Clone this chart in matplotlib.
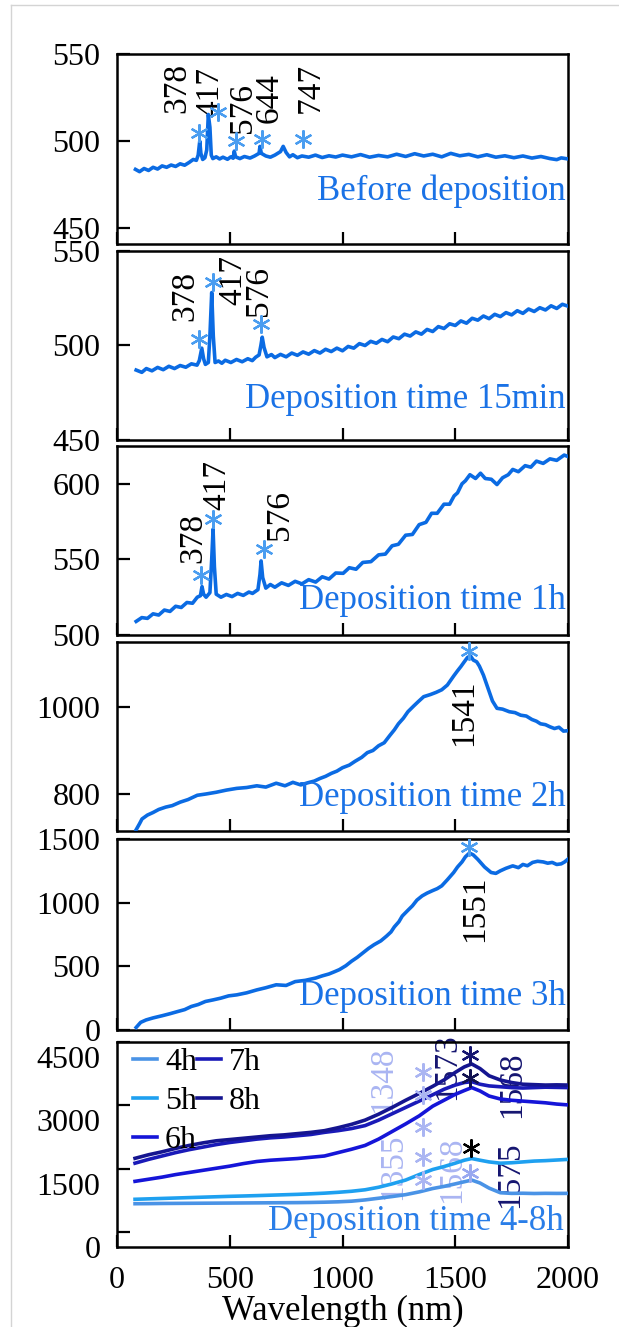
import numpy as np
import matplotlib
matplotlib.use("Agg")
import matplotlib.pyplot as plt
import matplotlib.transforms as mtransforms
from matplotlib.lines import Line2D

plt.rcParams['font.family'] = ['Liberation Serif', 'DejaVu Serif']

# ---- panel 1: before deposition
wl1 = [82, 100, 120, 140, 160, 180, 200, 220, 240, 260, 280, 300, 320, 338, 352, 360, 367, 372, 380, 390,
       398, 405, 412, 418, 425, 440, 455, 470, 490, 505, 515, 520, 526, 545, 565, 590, 610, 630, 634, 640,
       660, 680, 700, 725, 737, 750, 765, 780, 800, 820, 850, 880, 910, 940, 970, 1000, 1040, 1080, 1120, 1160,
       1200, 1240, 1280, 1320, 1360, 1400, 1440, 1480, 1520, 1560, 1600, 1640, 1680, 1720, 1760, 1800, 1840,
       1880, 1920, 1950, 1970, 2000]
y1 = [483.8, 482.5, 484.3, 483.2, 485, 484, 485.8, 485, 486.3, 485.5, 487, 486.2, 487.8, 489.5, 489, 492,
      500, 493, 489.5, 490.5, 495, 515.3, 508, 492, 490, 491, 489.8, 490.8, 489.6, 491, 490.2, 494.3, 491,
      490, 491.2, 490.3, 491.5, 493, 497, 493, 491.5, 490.8, 492, 494, 497, 493.5, 491, 492.2, 490.5, 491.5,
      490.8, 492, 490.6, 491.6, 490.9, 492, 491, 492.3, 490.8, 491.8, 491, 492.5, 491.2, 492.8, 491.5, 492.5,
      491, 493, 491.6, 492.4, 491, 492.2, 490.8, 491.6, 490.5, 491.5, 490.3, 491.2, 490, 489.4, 490.4, 489.8]
star1_x = [363, 447, 528, 645, 825]
star1_y = [504.8, 517, 500, 501, 501]
lab1 = ['378', '417', '576', '644', '747']
lab1_x = [265, 411, 557, 674, 856]
lab1_y = [516, 514, 504.8, 510.5, 516]

# ---- panel 2: 15 min
wl2 = [85, 110, 130, 155, 180, 205, 230, 255, 280, 305, 330, 355, 365, 376, 384, 392, 405, 412, 420, 427,
       435, 450, 465, 480, 505, 530, 555, 580, 600, 615, 630, 638, 644, 652, 665, 685, 700, 725, 750, 775,
       800, 825, 850, 875, 900, 925, 950, 975, 1000, 1025, 1050, 1075, 1100, 1125, 1150, 1175, 1200, 1225,
       1250, 1275, 1300, 1325, 1350, 1375, 1400, 1425, 1450, 1475, 1500, 1525, 1550, 1575, 1600, 1625,
       1650, 1675, 1700, 1725, 1750, 1775, 1800, 1825, 1850, 1875, 1900, 1925, 1950, 1975, 2000]
y2 = [487, 485.8, 487.8, 486.6, 488.4, 487.2, 489, 487.8, 489.4, 488.5,
      490.3, 489.6, 492, 498.6, 493, 490, 491, 505, 528, 505,
      491, 491.8, 490.6, 492.2, 491, 492.6, 491.4, 493, 492, 493.8,
      495, 500, 504.4, 499, 494, 495.2, 493.6, 495.3, 494, 496,
      494.8, 496.6, 495.4, 497.3, 496, 498, 496.8, 498.6, 497.2, 499.5,
      498.6, 501, 500, 502.2, 501.2, 503.2, 502, 504.5, 503.6, 506,
      505, 507.2, 506, 508.5, 507.4, 510, 509, 511.5, 510.6, 513,
      511.8, 514.4, 513.4, 515.6, 514.2, 516.5, 515.3, 517.4, 516.2, 518.4,
      517, 519.3, 518, 520, 518.8, 521, 519.6, 521.8, 520.8]
star2_x = [364, 426, 640]
star2_y = [503.5, 533.4, 511.4]
lab2 = ['378', '417', '576']
lab2_x = [303, 513, 627]
lab2_y = [513, 521.4, 515.4]

# ---- panel 3: 1 h
wl3 = [85, 110, 135, 160, 185, 210, 235, 260, 285, 310, 335, 356, 370, 377, 384, 395, 412, 420, 426, 432,
       440, 461, 485, 510, 535, 560, 585, 601, 625, 634, 639, 646, 660, 680, 700, 730, 760, 790, 820, 850,
       881, 910, 940, 970, 1003, 1030, 1060, 1090, 1126, 1160, 1190, 1220, 1248, 1280, 1310, 1340, 1370,
       1395, 1420, 1450, 1475, 1495, 1510, 1530, 1545, 1565, 1590, 1612, 1633, 1660, 1685, 1710, 1735,
       1755, 1780, 1810, 1835, 1860, 1890, 1920, 1950, 1983, 2000]
y3 = [509, 511.5, 511, 514, 513.2, 516.5, 515.6, 519, 518.2, 521.5,
      521, 525, 526, 532, 527, 525, 528, 550, 570, 545,
      527, 525, 526.8, 525.4, 527.5, 526.2, 528.4, 527.5, 530, 540,
      549, 538, 531, 533.4, 531.6, 534.5, 532.8, 535.5, 533.8, 536.6,
      535, 538.5, 537, 541, 540.8, 544.5, 543.5, 548, 548.5, 553,
      553.5, 559, 560, 566, 566.5, 573, 574.5, 580.5, 580.5, 586.5,
      586.5, 592, 594, 600, 602, 606, 603.5, 607, 603.5, 603,
      599.5, 604, 606, 609.5, 608, 612, 611, 615, 613.5, 616.5,
      615.5, 619, 618]
star3_x = [373, 426, 650]
star3_y = [540, 576.4, 556.6]
lab3 = ['378', '417', '576']
lab3_x = [338, 443, 723]
lab3_y = [547.8, 583, 563]

# ---- panel 4: 2 h
wl4 = [85, 100, 111, 135, 160, 185, 216, 245, 280, 315, 356, 395, 440, 485, 531, 575, 620, 660, 706, 745,
       780, 815, 846, 875, 900, 925, 951, 975, 1000, 1030, 1056, 1085, 1110, 1135, 1160, 1185, 1210, 1230,
       1248, 1270, 1290, 1315, 1335, 1360, 1390, 1415, 1440, 1465, 1493, 1510, 1525, 1540, 1554, 1567,
       1580, 1595, 1607, 1625, 1645, 1665, 1685, 1710, 1740, 1765, 1790, 1815, 1840, 1860, 1878, 1900,
       1920, 1940, 1960, 1980, 2000]
y4 = [716, 730, 741, 750, 756, 763, 768.5, 772, 780, 786,
      796, 799, 803, 808, 812, 814, 818, 815, 824, 818,
      826, 820, 825, 829, 835, 840, 847, 852, 860, 866,
      875, 884, 895, 900, 911, 918, 935, 948, 962, 975,
      990, 1003, 1013, 1025, 1030, 1035, 1041, 1052, 1073, 1085,
      1095, 1106, 1116, 1120, 1110, 1106, 1096, 1075, 1045, 1015,
      998, 996, 990, 988, 982, 980, 972, 968, 962, 960,
      955, 951, 954, 945, 946]
star4_x = [1563]
star4_y = [1131.5]
lab4 = ['1541']
lab4_x = [1537]
lab4_y = [1065]

# ---- panel 5: 3 h
wl5 = [85, 105, 129, 160, 200, 235, 269, 300, 330, 360, 392, 425, 460, 495, 531, 575, 620, 660, 706, 750,
       790, 835, 881, 910, 940, 965, 986, 1015, 1040, 1065, 1090, 1115, 1140, 1170, 1195, 1215, 1230, 1250,
       1265, 1290, 1310, 1330, 1353, 1375, 1400, 1420, 1440, 1465, 1493, 1510, 1530, 1545, 1563, 1580,
       1600, 1630, 1659, 1680, 1700, 1725, 1755, 1780, 1800, 1820, 1843, 1865, 1890, 1910, 1930, 1950,
       1970, 1985, 2000]
y5 = [20, 60, 79, 95, 112, 128, 145, 160, 185, 200,
      224, 236, 250, 268, 276, 292, 315, 332, 355, 350,
      380, 390, 408, 425, 440, 458, 474, 505, 540, 570,
      605, 640, 670, 700, 737, 770, 810, 850, 895, 940,
      975, 1020, 1053, 1075, 1095, 1110, 1132, 1180, 1237, 1280,
      1320, 1360, 1390, 1375, 1340, 1280, 1237, 1230, 1250, 1270,
      1289, 1275, 1300, 1290, 1316, 1325, 1320, 1310, 1316, 1300,
      1305, 1320, 1342]
star5_x = [1563]
star5_y = [1434]
lab5 = ['1551']
lab5_x = [1589]
lab5_y = [1210]

# ---- panel 6: 4-8 h
wl6 = [80, 140, 200, 260, 320, 380, 440, 500, 560, 620, 680, 740, 800, 860, 920, 980, 1040, 1100, 1160,
       1220, 1280, 1340, 1400, 1450, 1500, 1540, 1573, 1610, 1650, 1700, 1750, 1800, 1850, 1900, 1950, 2000]
y4h = [670, 672, 676, 678, 680, 682, 684, 686, 688, 690, 692, 694, 696, 700, 706, 715, 730, 760, 800,
       840, 885, 950, 1030, 1080, 1140, 1190, 1230, 1160, 1040, 930, 915, 918, 912, 916, 914, 915]
y5h = [775, 785, 795, 805, 815, 825, 835, 845, 853, 862, 872, 882, 892, 905, 920, 940, 965, 1000, 1060,
       1140, 1230, 1360, 1480, 1550, 1630, 1700, 1740, 1700, 1660, 1630, 1640, 1660, 1680, 1690, 1705, 1720]
y6h = [1200, 1250, 1300, 1360, 1410, 1460, 1510, 1560, 1620, 1670, 1700, 1720, 1740, 1770, 1800, 1880,
       1960, 2050, 2200, 2380, 2560, 2750, 2980, 3120, 3260, 3350, 3420, 3340, 3220, 3150, 3120, 3100,
       3080, 3060, 3030, 3010]
y7h = [1630, 1720, 1800, 1880, 1950, 2010, 2070, 2120, 2160, 2200, 2230, 2250, 2280, 2310, 2360, 2400,
       2450, 2520, 2650, 2800, 2950, 3100, 3250, 3380, 3480, 3540, 3560, 3500, 3460, 3440, 3420, 3410,
       3420, 3430, 3425, 3420]
y8h = [1745, 1830, 1900, 1980, 2050, 2110, 2160, 2190, 2220, 2250, 2280, 2300, 2330, 2360, 2400, 2470,
       2550, 2650, 2790, 2950, 3120, 3280, 3450, 3600, 3780, 3910, 3980, 3870, 3700, 3600, 3540, 3500,
       3490, 3480, 3485, 3480]
series6 = ['4h', '5h', '6h', '7h', '8h']
star6_x = [1358, 1358, 1358, 1358, 1358, 1566, 1566, 1570, 1566]
star6_y = [3797, 3245, 2495, 1784, 1232, 4192, 3647, 1989, 1397]
lab6 = ['1348', '1355', '1568', '1573', '1568', '1575']
lab6_x = [1181, 1225, 1484, 1462, 1750, 1743]
lab6_y = [3600, 1547, 1468, 3916, 3482, 1350]

LINE = '#0b6be3'
TXT = '#1a72e6'
STAR = '#4a9df0'
LAV = '#aab5f2'
NAVY = '#151570'
c6 = ['#4a93e6', '#1ea0f0', '#1515d8', '#1a1ab8', '#151590']
star6_c = [LAV, LAV, LAV, LAV, LAV, NAVY, '#101050', '#000000', '#98a8f0']
lab6_c = [LAV, LAV, LAV, NAVY, NAVY, NAVY]

W, H = 619, 1327
fig = plt.figure(figsize=(W / 100, H / 100), dpi=100)

# panel boxes in pixels (top, bottom)
boxes = [(54, 244), (251, 440), (446, 635), (642, 831), (839, 1030), (1042, 1247)]
x0, x1 = 117, 568
axes = []
for top, bot in boxes:
    ax = fig.add_axes([x0 / W, 1 - bot / H, (x1 - x0) / W, (bot - top) / H])
    ax.set_xlim(0, 2000)
    ax.set_xticks([0, 500, 1000, 1500, 2000])
    ax.tick_params(direction='in', length=9, width=1.6, labelsize=23, pad=12,
                   top=False, right=False)
    ax.tick_params(axis='x', pad=14)
    for s in ax.spines.values():
        s.set_linewidth(1.8)
    axes.append(ax)

panels = [
    (wl1, y1, star1_x, star1_y, lab1, lab1_x, lab1_y, (441, 550), [450, 500, 550], 'Before deposition', 0.28),
    (wl2, y2, star2_x, star2_y, lab2, lab2_x, lab2_y, (450, 550), [450, 500, 550], 'Deposition time 15min', 0.213),
    (wl3, y3, star3_x, star3_y, lab3, lab3_x, lab3_y, (500, 625), [500, 550, 600], 'Deposition time 1h', 0.18),
    (wl4, y4, star4_x, star4_y, lab4, lab4_x, lab4_y, (713, 1152), [800, 1000], 'Deposition time 2h', 0.178),
    (wl5, y5, star5_x, star5_y, lab5, lab5_x, lab5_y, (0, 1500), [0, 500, 1000, 1500], 'Deposition time 3h', 0.175),
]

for i, (wx, wy, sx, sy, lab, lx, ly, ylim, yt, title, ty) in enumerate(panels):
    ax = axes[i]
    ax.plot(wx, wy, color=LINE, lw=2.6, zorder=3)
    ax.plot(sx, sy, ls='none', marker=(6, 2, 0), ms=13, mew=1.6, color=STAR, zorder=4)
    va = 'bottom' if i < 3 else 'top'
    for t, xx, yy in zip(lab, lx, ly):
        ax.text(xx, yy, t, rotation=90, ha='center', va=va, fontsize=24, color='black', zorder=2)
    ax.set_ylim(*ylim)
    ax.set_yticks(yt)
    ax.set_xticklabels([])
    ax.text(0.995, ty, title, transform=ax.transAxes, ha='right', va='center',
            fontsize=25, color=TXT)

# bottom panel
ax = axes[5]
for yy, c, name in zip([y4h, y5h, y6h, y7h, y8h], c6, series6):
    ax.plot(wl6, yy, color=c, lw=2.6, label=name, zorder=3)
for t, xx, yy, c in zip(lab6, lab6_x, lab6_y, lab6_c):
    ax.text(xx, yy, t, rotation=90, ha='center', va='center', fontsize=24, color=c, zorder=2)
for xx, yy, c in zip(star6_x, star6_y, star6_c):
    ax.plot([xx], [yy], ls='none', marker=(6, 2, 0), ms=13, mew=1.6, color=c, zorder=4)
ax.set_ylim(-355, 4500)
ax.set_yticks([0, 1500, 3000, 4500])
off = mtransforms.ScaledTranslation(0, -0.15, fig.dpi_scale_trans)
for lbl in ax.get_yticklabels():
    lbl.set_transform(lbl.get_transform() + off)
ax.set_xlabel('Wavelength (nm)', fontsize=25, labelpad=0)
ax.legend(loc='upper left', ncol=2, frameon=False, fontsize=23, handlelength=0.75,
          handletextpad=0.25, columnspacing=0.0, labelspacing=0.3, borderaxespad=0.1,
          bbox_to_anchor=(0.0, 1.05))
ax.text(0.99, 0.123, 'Deposition time 4-8h', transform=ax.transAxes, ha='right', va='center',
        fontsize=25, color='#2a7ee8')

# light page frame
fig.add_artist(Line2D([11 / W, 1], [1 - 5 / H, 1 - 5 / H], color='#d4d4d4', lw=1))
fig.add_artist(Line2D([11 / W, 11 / W], [0, 1 - 5 / H], color='#d4d4d4', lw=1))

fig.savefig('out.png', dpi=100, facecolor='white')
